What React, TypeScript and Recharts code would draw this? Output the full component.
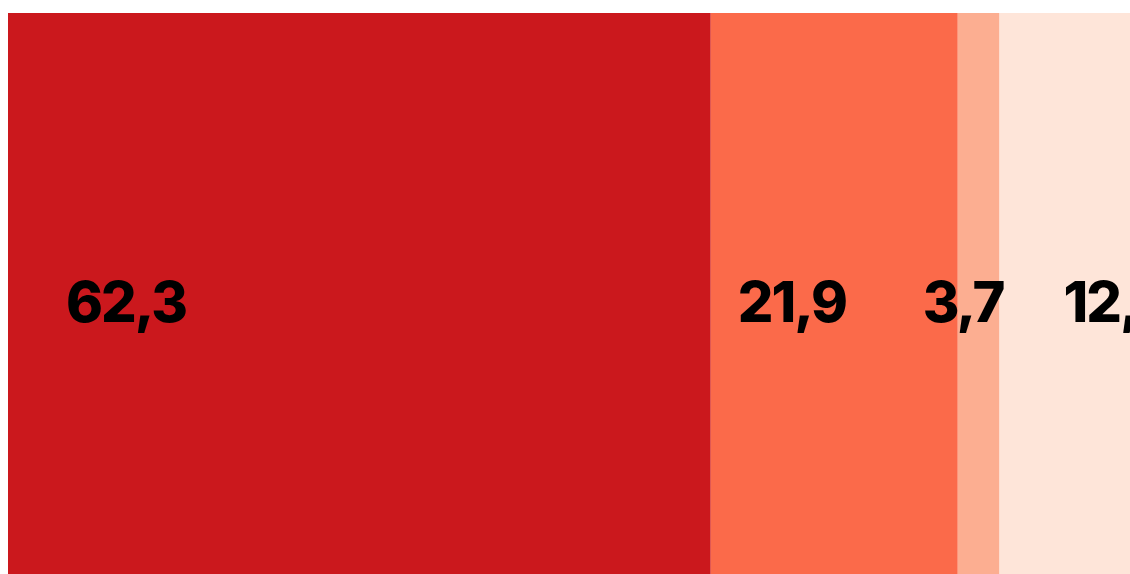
import { Bar, BarChart, XAxis, YAxis } from "recharts";

// one stacked bar, shares in percent
const categories = ["total"];
const seriesKeys = ["a", "b", "c", "d"];
const seriesValues = [62.3, 21.9, 3.7, 12.1];
const seriesLabels = ["62,3", "21,9", "3,7", "12,1"];
const seriesColors = ["#cb181d", "#fb6a4a", "#fcae91", "#fee5d9"];

// where each label sits relative to its segment's left edge
const labelShift = [58, 27, -35, 64];

const rows = categories.map((name) => {
  const row: Record<string, string | number> = { name };
  seriesKeys.forEach((key, i) => {
    row[key] = seriesValues[i];
  });
  return row;
});

const makeLabel = (index: number) => (props: any) => {
  const { x, y, height } = props;
  return (
    <text
      x={Number(x) + labelShift[index]}
      y={Number(y) + Number(height) / 2 + 20.5}
      textAnchor="start"
      fill="#000"
      fontFamily="Inter, sans-serif"
      fontWeight={800}
      fontSize={56}
      letterSpacing={-2}
    >
      {seriesLabels[index]}
    </text>
  );
};

export default function App() {
  return (
    <div style={{ position: "fixed", left: 8, top: 8, width: 1128, height: 582 }}>
      <style>{`body{overflow:hidden}`}</style>
      <BarChart
        width={1128}
        height={582}
        style={{ width: 1128, maxWidth: "none" }}
        data={rows}
        layout="vertical"
        margin={{ top: 5, right: 0, bottom: 0, left: 0 }}
        barCategoryGap={0}
      >
        <XAxis type="number" domain={[0, 100]} hide />
        <YAxis type="category" dataKey="name" hide />
        {seriesKeys.map((key, i) => (
          <Bar
            key={key}
            dataKey={key}
            stackId="s"
            fill={seriesColors[i]}
            isAnimationActive={false}
            label={makeLabel(i)}
          />
        ))}
      </BarChart>
    </div>
  );
}
